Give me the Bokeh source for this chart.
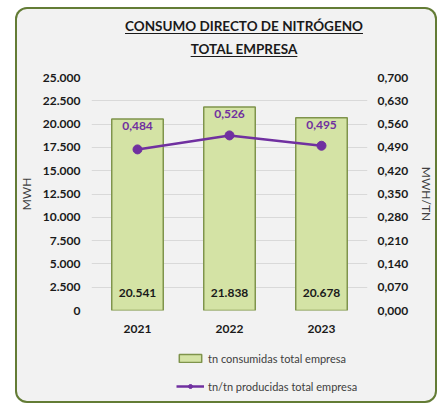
from bokeh.plotting import figure
from bokeh.models import (Range1d, LinearAxis, FixedTicker, Div,
                          Legend, LegendItem, ColumnDataSource, FactorRange)
from bokeh.layouts import column
from bokeh.embed import file_html
from bokeh.resources import INLINE
from bokeh.core.properties import value

years = ["2021", "2022", "2023"]
consumo = [20541, 21838, 20678]
ratio = [0.484, 0.526, 0.495]
left_ticks = [0, 2500, 5000, 7500, 10000, 12500, 15000, 17500, 20000, 22500, 25000]
left_labels = ["0", "2.500", "5.000", "7.500", "10.000", "12.500", "15.000",
               "17.500", "20.000", "22.500", "25.000"]
right_ticks = [0.0, 0.07, 0.14, 0.21, 0.28, 0.35, 0.42, 0.49, 0.56, 0.63, 0.70]
right_labels = ["0,000", "0,070", "0,140", "0,210", "0,280", "0,350", "0,420",
                "0,490", "0,560", "0,630", "0,700"]
title_lines = ["CONSUMO DIRECTO DE NITRÓGENO", "TOTAL EMPRESA"]
series_names = ["tn consumidas total empresa", "tn/tn producidas total empresa"]
axis_titles = ["MWH", "MWH/TN"]

FONT = "Lato"
PURPLE = "#7030a0"
BG = "#f2f2f2"
BAR_FILL = "#d4e3a5"
BAR_LINE = "#7f944c"
W = 422
ML, MR = 71, 69

src = ColumnDataSource(dict(
    x=years, c=consumo, r=ratio,
    c_lab=[f"{v:,}".replace(",", ".") for v in consumo],
    r_lab=[f"{v:.3f}".replace(".", ",") for v in ratio],
))

# ---- title block (HTML, underlined as in the original)
title = Div(width=W, height=62, margin=0, text=(
    f'<div style="width:{W}px;box-sizing:border-box;text-align:center;'
    'font-family:Lato;font-weight:bold;font-size:13.5px;line-height:23px;'
    'padding-top:8px;padding-left:36px;color:#1a1a1a;'
    'text-decoration-thickness:1px;text-underline-offset:2px">'
    + "<br>".join(f"<u>{t}</u>" for t in title_lines) + "</div>"))

# ---- main chart
p = figure(width=W, height=271, x_range=FactorRange(*years),
           y_range=Range1d(0, 25000), output_backend="svg", toolbar_location=None,
           min_border_left=ML, min_border_right=MR, min_border_top=8,
           min_border_bottom=30, margin=0)
p.background_fill_color = BG
p.border_fill_alpha = 0
p.outline_line_color = None
p.extra_y_ranges = {"r": Range1d(0, 0.7)}

p.xgrid.grid_line_color = None
p.ygrid.grid_line_color = "#d9d9d9"
p.ygrid.ticker = FixedTicker(ticks=left_ticks)

ya = p.yaxis[0]
ya.ticker = FixedTicker(ticks=left_ticks)
ya.major_label_overrides = {t: l for t, l in zip(left_ticks, left_labels)}
ra = LinearAxis(y_range_name="r", ticker=FixedTicker(ticks=right_ticks),
                major_label_overrides={t: l for t, l in zip(right_ticks, right_labels)})
p.add_layout(ra, "right")
for ax in [ya, ra, p.xaxis[0]]:
    ax.axis_line_color = None
    ax.major_tick_line_color = None
    ax.minor_tick_line_color = None
    ax.major_tick_out = 0
    ax.major_tick_in = 0
    ax.major_label_text_font = FONT
    ax.major_label_text_font_style = "bold"
    ax.major_label_text_font_size = "12px"
    ax.major_label_text_color = "#1a1a1a"
    ax.axis_label_text_font = FONT
    ax.axis_label_text_font_style = "normal"
    ax.axis_label_text_font_size = "12px"
    ax.axis_label_text_color = "#404040"
ya.major_label_standoff = 11
ra.major_label_standoff = 10
p.xaxis[0].major_label_standoff = 14
ya.axis_label = axis_titles[0]
ya.axis_label_standoff = 6
ra.axis_label = axis_titles[1]
ra.axis_label_standoff = 8

p.vbar(x="x", top="c", width=0.56, source=src, fill_color=BAR_FILL,
       line_color=BAR_LINE, line_width=1.5)
p.line(x="x", y="r", source=src, y_range_name="r", line_color=PURPLE, line_width=2.5)
p.scatter(x="x", y="r", source=src, y_range_name="r", size=9,
          fill_color=PURPLE, line_color=PURPLE)

p.text(x="x", y="c", text="r_lab", source=src, text_align="center",
       text_baseline="top", y_offset=3, text_font=value(FONT),
       text_font_style="bold", text_font_size="12px", text_color=PURPLE)
p.text(x="x", y=0, text="c_lab", source=src, text_align="center",
       text_baseline="bottom", y_offset=-14, text_font=value(FONT),
       text_font_style="bold", text_font_size="12px", text_color="#1a1a1a")

# ---- legend block (frame aligned with the chart's frame)
lf = figure(width=W, height=63, x_range=FactorRange(*years), y_range=Range1d(0, 1),
            output_backend="svg", toolbar_location=None, min_border_left=ML,
            min_border_right=MR, min_border_top=0, min_border_bottom=0,
            x_axis_location=None, y_axis_location=None, margin=0)
lf.grid.visible = False
lf.outline_line_color = None
lf.background_fill_alpha = 0
lf.border_fill_alpha = 0
lb = lf.vbar(x="x", top="c", width=0.56, source=src, fill_color=BAR_FILL,
             line_color=BAR_LINE, line_width=1.5, visible=False)
ll = lf.line(x="x", y="r", source=src, line_color=PURPLE, line_width=2.5, visible=False)
lm = lf.scatter(x="x", y="r", source=src, size=9, fill_color=PURPLE,
                line_color=PURPLE, visible=False)
legend = Legend(items=[LegendItem(label=series_names[0], renderers=[lb]),
                       LegendItem(label=series_names[1], renderers=[ll, lm])],
                location=(85, 10), orientation="vertical",
                glyph_width=28, glyph_height=10, label_height=14, spacing=14,
                label_standoff=4, padding=0, margin=0,
                border_line_color=None, background_fill_alpha=0,
                inactive_fill_alpha=0,
                label_text_font=FONT, label_text_font_size="11px",
                label_text_color="#404040")
lf.add_layout(legend)

layout = column(title, p, lf, spacing=0)
layout.margin = (7, 0, 0, 15)
layout.styles = {"border-radius": "12px", "background-color": BG,
                 "box-shadow": "inset 0 0 0 2px #637c35"}

open("out.html", "w").write(file_html(layout, INLINE))
